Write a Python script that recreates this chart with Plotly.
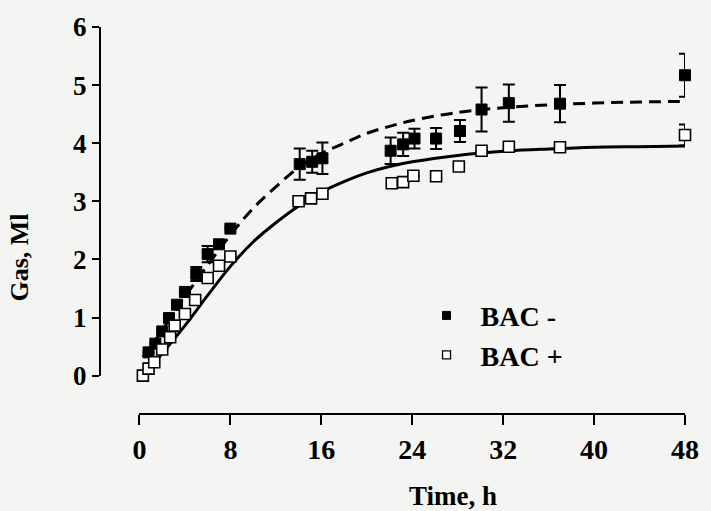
import plotly.graph_objects as go

# ---- data ----
# BAC - (filled squares)
t_minus = [0.8, 1.4, 2.0, 2.6, 3.3, 4.0, 5.0, 6.0, 7.0, 8.0,
           14.1, 15.2, 16.1, 22.1, 23.2, 24.2, 26.1, 28.2, 30.1, 32.5, 37.0, 48.0]
v_minus = [0.40, 0.55, 0.76, 0.99, 1.22, 1.44, 1.75, 2.09, 2.26, 2.53,
           3.64, 3.68, 3.74, 3.87, 3.98, 4.08, 4.08, 4.21, 4.58, 4.69, 4.68, 5.17]
e_minus = [0, 0, 0, 0, 0, 0, 0.12, 0.14, 0, 0,
           0.27, 0.19, 0.27, 0.23, 0.20, 0.17, 0.18, 0.19, 0.38, 0.32, 0.32, 0.37]

# BAC + (open squares)
t_plus = [0.3, 0.8, 1.3, 2.0, 2.7, 3.1, 4.0, 4.9, 6.0, 7.0, 8.0,
          14.0, 15.1, 16.1, 22.2, 23.2, 24.1, 26.1, 28.1, 30.1, 32.5, 37.0, 48.0]
v_plus = [0.00, 0.12, 0.23, 0.45, 0.66, 0.86, 1.06, 1.30, 1.68, 1.89, 2.05,
          3.00, 3.05, 3.13, 3.31, 3.33, 3.44, 3.43, 3.60, 3.87, 3.94, 3.93, 4.14]
e_plus = [0]*22 + [0.18]

# fitted curves
t_fit = [0.3, 1, 2, 4, 6, 8, 10, 12, 14, 16, 18, 20, 22, 24, 28, 32, 36, 40, 44, 48]
fit_minus = [0.32, 0.50, 0.78, 1.36, 1.90, 2.42, 2.88, 3.25, 3.58, 3.82, 4.00, 4.17,
             4.29, 4.39, 4.53, 4.61, 4.66, 4.69, 4.71, 4.72]
fit_plus = [0.02, 0.15, 0.38, 0.86, 1.38, 1.88, 2.30, 2.63, 2.92, 3.16, 3.34, 3.49,
            3.60, 3.68, 3.79, 3.86, 3.90, 3.93, 3.94, 3.95]

x_ticks = [0, 8, 16, 24, 32, 40, 48]
y_ticks = [0, 1, 2, 3, 4, 5, 6]
legend_names = ["\u00a0\u00a0BAC -", "\u00a0\u00a0BAC +"]

FONT = "Liberation Serif"
BG = "#f4f4f2"

fig = go.Figure()

fig.add_trace(go.Scatter(x=t_fit, y=fit_minus, mode="lines", line_shape="spline",
                         line=dict(color="black", width=3, dash="12px,7px"),
                         showlegend=False, hoverinfo="skip"))
fig.add_trace(go.Scatter(x=t_fit, y=fit_plus, mode="lines", line_shape="spline",
                         line=dict(color="black", width=3),
                         showlegend=False, hoverinfo="skip"))

fig.add_trace(go.Scatter(x=t_minus, y=v_minus, mode="markers", cliponaxis=False,
                         marker=dict(symbol="square", size=11, color="black",
                                     line=dict(color="black", width=1)),
                         error_y=dict(type="data", array=e_minus, color="black",
                                      thickness=2, width=6),
                         showlegend=False))
fig.add_trace(go.Scatter(x=t_plus, y=v_plus, mode="markers", cliponaxis=False,
                         marker=dict(symbol="square", size=11, color="white",
                                     line=dict(color="black", width=1.6)),
                         error_y=dict(type="data", array=e_plus, color="black",
                                      thickness=2, width=6),
                         showlegend=False))

# legend entries
fig.add_trace(go.Scatter(x=[None], y=[None], mode="markers", name=legend_names[0],
                         marker=dict(symbol="square", size=8, color="black",
                                     line=dict(color="black", width=1))))
fig.add_trace(go.Scatter(x=[None], y=[None], mode="markers", name=legend_names[1],
                         marker=dict(symbol="square", size=8, color="white",
                                     line=dict(color="black", width=1.3))))

L, R, T, B = 100, 18, 21, 97
W, H = 711, 511
pw = W - L - R
ph = H - T - B

fig.update_layout(
    width=W, height=H,
    margin=dict(l=L, r=R, t=T, b=B, pad=0),
    paper_bgcolor=BG, plot_bgcolor=BG,
    font=dict(family=FONT, color="black"),
    xaxis=dict(range=[0, 48], domain=[(140 - L) / pw, 1], anchor="free", position=0,
               tickmode="array", tickvals=x_ticks, ticktext=[str(v) for v in x_ticks],
               ticks="outside", ticklen=10, tickwidth=2, tickcolor="black",
               showline=True, linecolor="black", linewidth=2,
               showgrid=False, zeroline=False,
               tickfont=dict(family=FONT, size=28, weight="bold", color="black")),
    yaxis=dict(range=[0, 6], domain=[(414 - 375) / ph, 1], anchor="free", position=0,
               tickmode="array", tickvals=y_ticks, ticktext=[str(v) for v in y_ticks],
               ticks="outside", ticklen=7, tickwidth=2, tickcolor="black",
               showline=True, linecolor="black", linewidth=2,
               showgrid=False, zeroline=False,
               tickfont=dict(family=FONT, size=27, weight="bold", color="black")),
    legend=dict(x=(431 - L) / pw, y=(414 - 334) / ph, xanchor="left", yanchor="middle",
                bgcolor="rgba(0,0,0,0)", borderwidth=0,
                font=dict(family=FONT, size=28, weight="bold", color="black"),
                tracegroupgap=0),
    annotations=[
        dict(text="Time, h", x=(458 - L) / pw, y=(414 - 497) / ph, xref="paper", yref="paper",
             xanchor="center", yanchor="middle", showarrow=False,
             font=dict(family=FONT, size=27, weight="bold", color="black")),
        dict(text="Gas, Ml", x=(18 - L) / pw, y=(414 - 255) / ph, xref="paper", yref="paper",
             xanchor="center", yanchor="middle", showarrow=False, textangle=-90,
             font=dict(family=FONT, size=26, weight="bold", color="black")),
    ],
)

fig.write_html("out.html", config={"displayModeBar": False},
               post_script="document.body.style.margin='0';")
